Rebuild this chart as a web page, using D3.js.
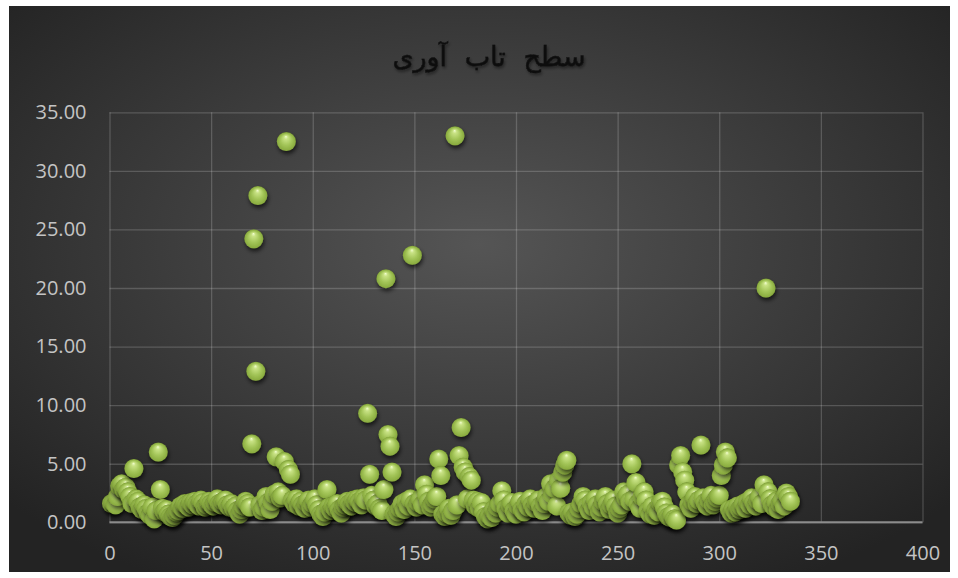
<!DOCTYPE html>
<html>
<head>
<meta charset="utf-8">
<script src="https://cdnjs.cloudflare.com/ajax/libs/d3/7.8.5/d3.min.js"></script>
<style>
  html, body { margin: 0; padding: 0; background: #ffffff; }
  svg { display: block; }
</style>
</head>
<body>
<svg id="chart" width="958" height="578"></svg>
<script>
// Resilience level per observation (observation number = position + 1)
const resilience = [
  1.6, 1.7, 1.5, 2.2, 3.1, 3.3, 2.8, 3.0, 2.6, 2.2,
  1.6, 4.6, 2.0, 1.8, 1.3, 1.1, 1.5, 1.2, 0.8, 0.6,
  1.3, 0.3, 1.0, 6.0, 2.8, 1.2, 0.9, 1.1, 0.7, 0.5,
  0.4, 0.6, 0.9, 1.0, 1.4, 1.2, 1.6, 1.5, 1.3, 1.7,
  1.5, 1.8, 1.6, 1.4, 1.9, 1.7, 1.3, 1.5, 1.8, 1.6,
  1.4, 1.7, 2.0, 1.6, 1.5, 1.8, 1.9, 1.5, 1.3, 1.6,
  1.2, 1.4, 1.0, 0.7, 1.1, 1.4, 1.8, 1.6, 1.3, 6.7,
  24.2, 12.9, 27.9, 1.5, 1.0, 1.3, 2.2, 1.7, 1.1, 1.8,
  2.4, 5.6, 2.6, 2.1, 2.3, 5.2, 32.5, 4.5, 4.1, 1.9,
  1.6, 2.0, 1.4, 1.8, 1.5, 1.2, 1.7, 1.9, 1.3, 1.6,
  2.0, 1.5, 1.1, 0.7, 0.5, 0.9, 2.8, 1.3, 1.0, 1.4,
  1.2, 1.6, 1.1, 0.8, 1.3, 1.5, 1.8, 1.6, 1.4, 1.9,
  1.7, 2.0, 1.8, 1.5, 2.1, 1.9, 9.3, 4.1, 2.3, 1.9,
  1.4, 1.6, 1.2, 1.0, 2.8, 20.8, 7.5, 6.5, 4.3, 0.7,
  0.5, 0.9, 1.2, 1.6, 1.1, 1.8, 1.4, 2.0, 22.8, 1.6,
  1.3, 1.7, 2.0, 1.5, 3.2, 2.4, 1.8, 1.3, 1.6, 2.0,
  2.2, 5.4, 4.0, 0.7, 0.5, 0.8, 1.2, 0.6, 1.0, 33.0,
  1.5, 5.7, 8.1, 4.7, 4.3, 2.0, 3.9, 3.6, 1.9, 1.4,
  1.8, 1.2, 1.7, 0.9, 0.5, 0.3, 0.6, 0.4, 1.1, 0.8,
  1.3, 1.6, 2.7, 1.9, 1.2, 0.8, 1.5, 1.7, 1.0, 0.7,
  1.4, 1.8, 1.1, 0.9, 1.6, 1.3, 2.0, 1.5, 1.2, 1.7,
  1.9, 1.4, 1.0, 1.6, 2.2, 1.8, 3.3, 2.4, 2.9, 1.4,
  3.6, 2.9, 4.3, 4.9, 5.3, 0.8, 0.6, 0.9, 0.5, 0.7,
  1.2, 1.6, 2.2, 1.9, 1.4, 1.0, 1.7, 1.3, 2.0, 1.5,
  0.9, 1.3, 1.8, 2.2, 1.6, 1.1, 1.5, 1.9, 1.4, 0.8,
  1.2, 1.5, 2.6, 2.1, 2.4, 1.8, 5.0, 2.0, 3.4, 1.6,
  1.2, 2.2, 2.6, 1.9, 1.0, 0.7, 1.4, 0.6, 1.1, 0.9,
  1.7, 1.8, 1.3, 0.8, 0.5, 0.4, 0.7, 0.3, 0.2, 4.9,
  5.7, 4.3, 3.6, 2.6, 1.5, 1.2, 1.8, 2.2, 1.6, 1.9,
  6.6, 2.1, 1.7, 1.4, 1.9, 2.3, 1.5, 1.8, 2.1, 2.3,
  4.0, 4.9, 6.0, 5.5, 1.1, 0.8, 1.2, 0.9, 1.4, 1.1,
  1.3, 1.6, 1.2, 1.8, 1.5, 2.1, 1.7, 1.4, 1.9, 2.2,
  1.6, 3.2, 20.0, 2.6, 2.0, 1.5, 1.3, 1.8, 1.1, 1.6,
  1.9, 1.4, 2.5, 2.2, 1.8
];
const observation = resilience.map((_, i) => i + 1);

const xTicks = [0, 50, 100, 150, 200, 250, 300, 350, 400];
const yTicks = [0, 5, 10, 15, 20, 25, 30, 35];
const chartTitle = "سطح تاب آوری";

const svg = d3.select("#chart");
const defs = svg.append("defs");

// Chart background: dark radial gradient
const bg = defs.append("radialGradient").attr("id", "bgGrad")
  .attr("cx", "50%").attr("cy", "42%").attr("r", "68%");
bg.append("stop").attr("offset", "0%").attr("stop-color", "#555555");
bg.append("stop").attr("offset", "100%").attr("stop-color", "#232323");

// Glossy sphere for markers
const ball = defs.append("radialGradient").attr("id", "ball")
  .attr("cx", "50%").attr("cy", "55%").attr("r", "55%")
  .attr("fx", "48%").attr("fy", "22%");
ball.append("stop").attr("offset", "0%").attr("stop-color", "#f3ffd2");
ball.append("stop").attr("offset", "18%").attr("stop-color", "#c8e284");
ball.append("stop").attr("offset", "55%").attr("stop-color", "#a2c457");
ball.append("stop").attr("offset", "85%").attr("stop-color", "#8bad40");
ball.append("stop").attr("offset", "100%").attr("stop-color", "#6f8f2c");

const shadow = defs.append("filter").attr("id", "ballShadow")
  .attr("x", "-50%").attr("y", "-50%").attr("width", "200%").attr("height", "200%");
shadow.append("feDropShadow").attr("dx", 1).attr("dy", 3)
  .attr("stdDeviation", 2.2).attr("flood-color", "#000").attr("flood-opacity", 0.65);

const titleShadow = defs.append("filter").attr("id", "titleShadow")
  .attr("x", "-20%").attr("y", "-50%").attr("width", "140%").attr("height", "200%");
titleShadow.append("feDropShadow").attr("dx", 1).attr("dy", 2)
  .attr("stdDeviation", 1.5).attr("flood-color", "#000").attr("flood-opacity", 0.45);

svg.append("rect")
  .attr("x", 9).attr("y", 6).attr("width", 941).attr("height", 566)
  .attr("fill", "url(#bgGrad)");

const x = d3.scaleLinear().domain([0, 400]).range([109.5, 922.5]);
const y = d3.scaleLinear().domain([0, 35]).range([522.3, 112.3]);

// Gridlines and axes
const yAxis = svg.append("g")
  .attr("transform", `translate(${x(0)},0)`)
  .call(d3.axisLeft(y).tickValues(yTicks).tickFormat(d3.format(".2f"))
    .tickSize(-(x(400) - x(0))).tickPadding(23));
yAxis.select(".domain").remove();
yAxis.selectAll(".tick line")
  .attr("stroke", "#ffffff").attr("stroke-opacity", 0.18).attr("stroke-width", 1.3);
yAxis.selectAll(".tick text")
  .attr("fill", "#c4c4c4").attr("font-family", "'Open Sans', sans-serif").attr("font-size", 20);

const xAxis = svg.append("g")
  .attr("transform", `translate(0,${y(0)})`)
  .call(d3.axisBottom(x).tickValues(xTicks).tickFormat(d3.format("d"))
    .tickSize(-(y(0) - y(35))).tickPadding(24));
xAxis.select(".domain").remove();
xAxis.selectAll(".tick line")
  .attr("stroke", "#ffffff").attr("stroke-opacity", 0.18).attr("stroke-width", 1.3);
xAxis.selectAll(".tick text")
  .attr("fill", "#c4c4c4").attr("font-family", "'Open Sans', sans-serif").attr("font-size", 20);

// Horizontal base line
svg.append("line")
  .attr("x1", x(0)).attr("x2", x(400)).attr("y1", y(0)).attr("y2", y(0))
  .attr("stroke", "#8c8c8c").attr("stroke-width", 2);

// Markers
svg.append("g").selectAll("circle")
  .data(resilience)
  .join("circle")
  .attr("cx", (d, i) => x(observation[i]))
  .attr("cy", d => y(d))
  .attr("r", 9.5)
  .attr("fill", "url(#ball)")
  .attr("filter", "url(#ballShadow)");

// Title
svg.append("text")
  .attr("x", 489).attr("y", 66)
  .attr("text-anchor", "middle")
  .attr("direction", "rtl")
  .attr("font-family", "'DejaVu Sans', sans-serif")
  .attr("font-size", 27)
  .attr("word-spacing", 9)
  .attr("fill", "#0e0e0e")
  .attr("stroke", "#0e0e0e")
  .attr("stroke-width", 0.5)
  .attr("filter", "url(#titleShadow)")
  .text(chartTitle);
</script>
</body>
</html>
